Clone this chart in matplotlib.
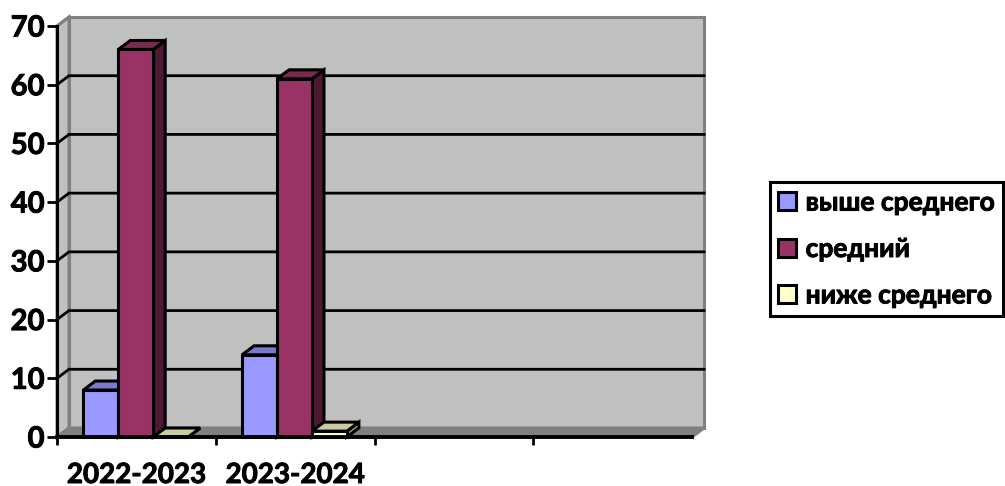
import matplotlib
matplotlib.use("Agg")
import matplotlib.pyplot as plt
import matplotlib.patheffects as pe
from matplotlib.patches import Polygon, Patch

plt.rcParams["font.family"] = ["Lato", "Noto Sans", "DejaVu Sans"]
plt.rcParams["font.weight"] = "bold"

# ── Data ──────────────────────────────────────────────────────────────────────

categories = ["2022-2023", "2023-2024", "", ""]
series_names = ["выше среднего", "средний", "ниже среднего"]
above = [8, 14, 0, 0]
middle = [66, 61, 0, 0]
below = [0, 1, 0, 0]
y_ticks = [0, 10, 20, 30, 40, 50, 60, 70]

front_colors = ["#9999FF", "#993366", "#FFFFCC"]
top_colors = ["#7A7ACC", "#7A2952", "#CCCCA3"]
side_colors = ["#5C5C99", "#4D1A33", "#99997A"]

# ── Figure ────────────────────────────────────────────────────────────────────

W, H = 1005, 486
fig = plt.figure(figsize=(W / 100, H / 100), dpi=100)
ax = fig.add_axes([57 / W, 1 - 437 / H, 635 / W, 411 / H])
ax.set_xlim(0, 4)
ax.set_ylim(0, 70)

# depth of the fake 3d box, in data units
DX = 12 / (635 / 4)
DY = 9 / (411 / 70)
BAR_W = 0.22
GAP = 0.166


def poly(points, color, edge="black", lw=2.2, z=2):
    ax.add_patch(Polygon(points, closed=True, facecolor=color, edgecolor=edge,
                         linewidth=lw, zorder=z, clip_on=False,
                         joinstyle="miter"))


# walls and floor
poly([(DX, DY), (4 + DX, DY), (4 + DX, 70 + DY), (DX, 70 + DY)],
     "#C0C0C0", edge="#808080", z=1)
poly([(0, 0), (DX, DY), (DX, 70 + DY), (0, 70)], "#C0C0C0", edge="#808080", z=1)
poly([(0, 0), (4, 0), (4 + DX, DY), (DX, DY)], "#808080", edge="#808080", z=1)

for v in y_ticks[1:-1]:
    ax.plot([0, DX, 4 + DX], [v, v + DY, v + DY], color="black", lw=2,
            zorder=1.5, clip_on=False, solid_joinstyle="miter")
ax.plot([0, DX], [70, 70 + DY], color="#808080", lw=2, zorder=1.5, clip_on=False)

# bars
for s, values in enumerate([above, middle, below]):
    for c, val in enumerate(values):
        if c >= 2:
            continue
        x0 = c + GAP + s * BAR_W
        x1 = x0 + BAR_W
        poly([(x1, 0), (x1 + DX, DY), (x1 + DX, val + DY), (x1, val)],
             side_colors[s], z=2 + s)
        poly([(x0, val), (x1, val), (x1 + DX, val + DY), (x0 + DX, val + DY)],
             top_colors[s], z=2 + s)
        poly([(x0, 0), (x1, 0), (x1, val), (x0, val)], front_colors[s], z=2 + s)

# axes
for name in ["top", "right"]:
    ax.spines[name].set_visible(False)
ax.spines["left"].set_linewidth(2.2)
ax.spines["bottom"].set_linewidth(2.8)
ax.spines["left"].set_zorder(6)
ax.spines["bottom"].set_zorder(6)
ax.patch.set_visible(False)

ax.set_yticks(y_ticks)
ax.tick_params(axis="y", length=7, width=2, pad=2, labelsize=21)
ax.set_xticks([0, 1, 2, 3])
ax.set_xticklabels([])
ax.tick_params(axis="x", which="major", length=6, width=2)
ax.set_xticks([0.5, 1.5, 2.5, 3.5], minor=True)
ax.set_xticklabels(categories, minor=True, fontsize=20)
ax.tick_params(axis="x", which="minor", length=0, pad=18)

# legend
handles = [Patch(facecolor=col, edgecolor="black", linewidth=2.2) for col in front_colors]
leg = fig.legend(handles, series_names, loc="center left",
                 bbox_to_anchor=(770 / W, 1 - 249 / H), fontsize=19,
                 frameon=True, fancybox=False, edgecolor="black", framealpha=1,
                 handlelength=0.68, handleheight=0.68, handletextpad=0.35,
                 labelspacing=0.85, borderpad=0.32, borderaxespad=0)
leg.get_frame().set_linewidth(2.2)

# Lato Bold is a little lighter than the reference's face
stroke = [pe.withStroke(linewidth=0.7, foreground="black")]
for txt in ax.get_yticklabels() + ax.get_xticklabels(minor=True) + leg.get_texts():
    txt.set_path_effects(stroke)

fig.savefig("out.png", dpi=100)
